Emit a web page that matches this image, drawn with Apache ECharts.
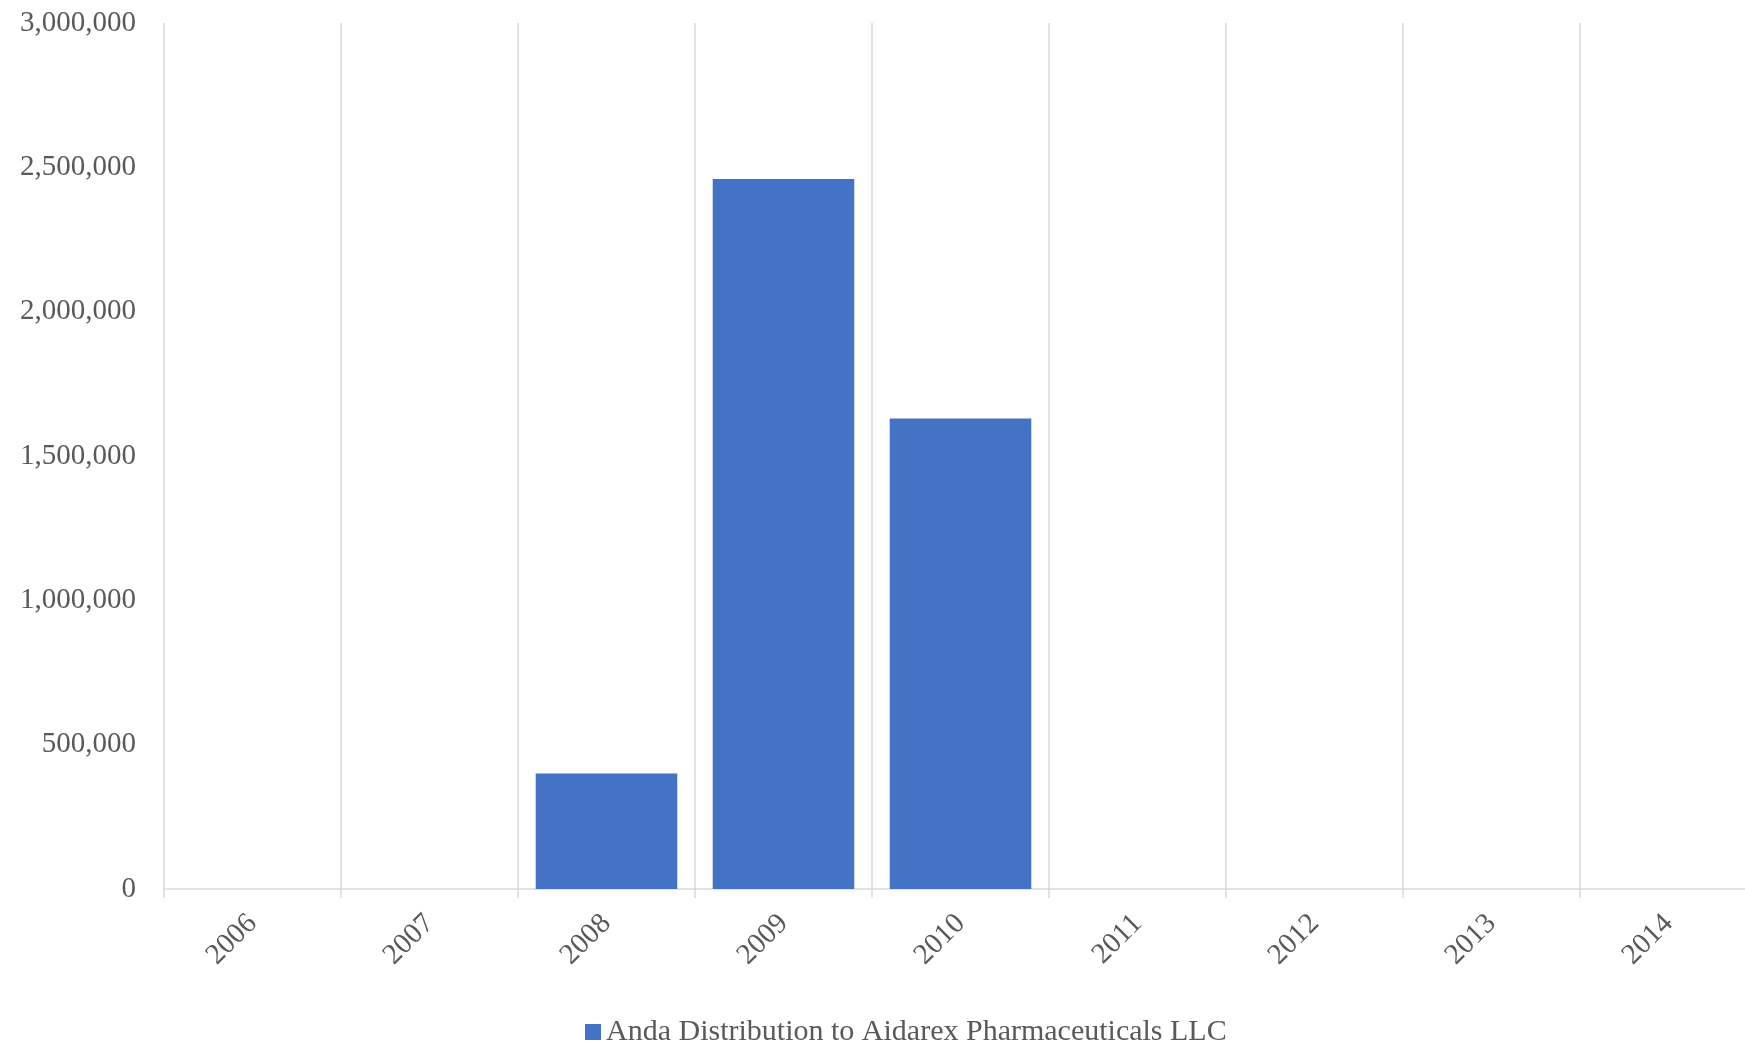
<!DOCTYPE html>
<html>
<head>
<meta charset="utf-8">
<script src="https://cdn.jsdelivr.net/npm/echarts@6/dist/echarts.min.js"></script>
<style>
html,body{margin:0;padding:0;background:#fff;overflow:hidden;width:1745px;height:1045px;}
#chart{width:1757px;height:1045px;}
</style>
</head>
<body>
<div id="chart"></div>
<script>
const categories = ['2006','2007','2008','2009','2010','2011','2012','2013','2014'];
const seriesName = 'Anda Distribution to Aidarex Pharmaceuticals LLC';
const values = [null, null, 400000, 2460000, 1630000, null, null, null, null];
const yTicks = { min: 0, max: 3000000, interval: 500000 };

const chart = echarts.init(document.getElementById('chart'));
const font = '"Liberation Serif", "DejaVu Serif", serif';
chart.setOption({
  animation: false,
  backgroundColor: '#ffffff',
  grid: { left: 164, top: 23, right: 0, bottom: 156, containLabel: false },
  legend: {
    left: 580, top: 1012,
    itemWidth: 16, itemHeight: 16, itemGap: 10,
    icon: 'rect',
    textStyle: { fontFamily: font, fontSize: 30, color: '#595959' },
    data: [seriesName]
  },
  xAxis: {
    type: 'category',
    data: categories,
    boundaryGap: true,
    axisLine: { show: true, lineStyle: { color: '#d9d9d9', width: 1.5 } },
    axisTick: { show: true, length: 9, lineStyle: { color: '#d9d9d9', width: 1.5 } },
    splitLine: { show: true, lineStyle: { color: '#d9d9d9', width: 1.5 } },
    axisLabel: { rotate: 45, margin: 30, fontFamily: font, fontSize: 29, color: '#595959' }
  },
  yAxis: {
    type: 'value',
    min: yTicks.min, max: yTicks.max, interval: yTicks.interval,
    axisLine: { show: false },
    axisTick: { show: false },
    splitLine: { show: false },
    axisLabel: {
      margin: 28, fontFamily: font, fontSize: 29, color: '#595959',
      formatter: v => v.toLocaleString('en-US')
    }
  },
  series: [{
    name: seriesName,
    type: 'bar',
    data: values,
    barCategoryGap: '20%',
    itemStyle: { color: '#4472C4' }
  }]
});
</script>
</body>
</html>
